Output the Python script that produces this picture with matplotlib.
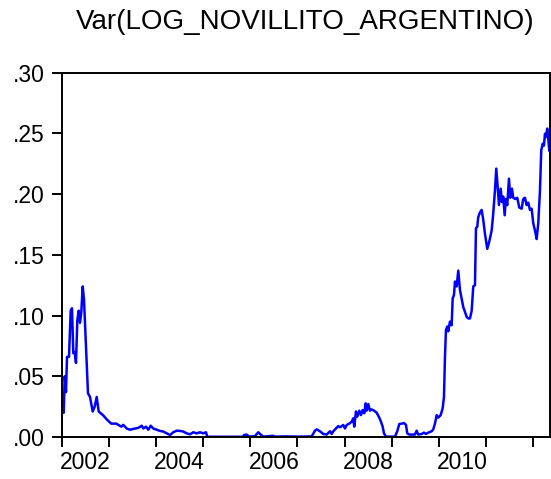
import matplotlib
matplotlib.use('Agg')
from matplotlib import pyplot as plt

plt.rcParams['font.family'] = ['Liberation Sans', 'DejaVu Sans']

dates = [
    2002.000, 2002.011, 2002.047, 2002.068, 2002.095, 2002.117, 2002.159, 2002.195,
    2002.222, 2002.250, 2002.280, 2002.307, 2002.335, 2002.364, 2002.392, 2002.420,
    2002.449, 2002.477, 2002.519, 2002.561, 2002.604, 2002.661, 2002.703, 2002.746,
    2002.788, 2002.879, 2002.970, 2003.055, 2003.161, 2003.267, 2003.309, 2003.381,
    2003.451, 2003.557, 2003.627, 2003.699, 2003.733, 2003.790, 2003.839, 2003.890,
    2003.945, 2004.017, 2004.087, 2004.157, 2004.229, 2004.299, 2004.369, 2004.441,
    2004.511, 2004.581, 2004.653, 2004.722, 2004.792, 2004.864, 2004.934, 2005.004,
    2005.061, 2005.089, 2005.852, 2005.867, 2005.924, 2005.979, 2006.100, 2006.169,
    2006.220, 2006.275, 2006.487, 2006.523, 2006.771, 2007.053, 2007.301, 2007.371,
    2007.407, 2007.477, 2007.547, 2007.619, 2007.689, 2007.725, 2007.758, 2007.864,
    2007.900, 2007.970, 2008.006, 2008.042, 2008.097, 2008.148, 2008.182, 2008.203,
    2008.239, 2008.267, 2008.309, 2008.345, 2008.381, 2008.415, 2008.445, 2008.466,
    2008.500, 2008.536, 2008.572, 2008.621, 2008.678, 2008.733, 2008.769, 2008.805,
    2008.833, 2008.875, 2009.066, 2009.114, 2009.157, 2009.208, 2009.256, 2009.299,
    2009.326, 2009.369, 2009.489, 2009.525, 2009.559, 2009.631, 2009.680, 2009.722,
    2009.771, 2009.843, 2009.877, 2009.913, 2009.949, 2009.983, 2010.034, 2010.076,
    2010.104, 2010.125, 2010.146, 2010.174, 2010.195, 2010.231, 2010.267, 2010.288,
    2010.316, 2010.337, 2010.373, 2010.407, 2010.443, 2010.479, 2010.513, 2010.549,
    2010.585, 2010.619, 2010.655, 2010.691, 2010.725, 2010.761, 2010.782, 2010.809,
    2010.830, 2010.867, 2010.903, 2010.936, 2010.972, 2011.021, 2011.064, 2011.114,
    2011.148, 2011.184, 2011.212, 2011.242, 2011.269, 2011.305, 2011.333, 2011.360,
    2011.390, 2011.417, 2011.445, 2011.481, 2011.508, 2011.544, 2011.572, 2011.614,
    2011.657, 2011.699, 2011.750, 2011.784, 2011.820, 2011.856, 2011.890, 2011.926,
    2011.962, 2011.996, 2012.038, 2012.068, 2012.102, 2012.138, 2012.165, 2012.195,
    2012.222, 2012.244, 2012.265, 2012.292, 2012.314, 2012.335,
]
variance = [
    0.004, 0.028, 0.020, 0.050, 0.037, 0.066, 0.066, 0.104,
    0.106, 0.069, 0.070, 0.061, 0.096, 0.104, 0.094, 0.103,
    0.124, 0.113, 0.074, 0.036, 0.033, 0.021, 0.025, 0.033,
    0.021, 0.018, 0.014, 0.011, 0.011, 0.0085, 0.010, 0.007,
    0.006, 0.007, 0.0075, 0.0093, 0.007, 0.0085, 0.006, 0.0093,
    0.007, 0.006, 0.005, 0.0045, 0.003, 0.0016, 0.0039, 0.0052,
    0.005, 0.0045, 0.003, 0.0022, 0.0039, 0.003, 0.0039, 0.003,
    0.0039, 0.0002, 0.0002, 0.0016, 0.002, 0.0003, 0.0008, 0.0039,
    0.002, 0.0003, 0.001, 0.0003, 0.0005, 0.0003, 0.0005, 0.0052,
    0.0063, 0.0047, 0.0025, 0.002, 0.0047, 0.0025, 0.0047, 0.009,
    0.008, 0.0099, 0.007, 0.0099, 0.011, 0.0126, 0.0154, 0.0085,
    0.021, 0.0167, 0.0217, 0.018, 0.0222, 0.0195, 0.0277, 0.0217,
    0.0271, 0.0217, 0.0227, 0.0217, 0.020, 0.016, 0.0126, 0.0085,
    0.003, 0.0003, 0.0003, 0.0047, 0.0107, 0.011, 0.0115, 0.010,
    0.003, 0.002, 0.002, 0.0052, 0.002, 0.0025, 0.0036, 0.0025,
    0.0036, 0.0047, 0.0063, 0.011, 0.018, 0.016, 0.018, 0.0236,
    0.033, 0.066, 0.088, 0.091, 0.087, 0.095, 0.092, 0.114,
    0.117, 0.128, 0.124, 0.137, 0.121, 0.114, 0.107, 0.103,
    0.099, 0.0976, 0.0976, 0.104, 0.124, 0.125, 0.172, 0.173,
    0.181, 0.185, 0.187, 0.179, 0.1675, 0.155, 0.161, 0.170,
    0.184, 0.203, 0.221, 0.206, 0.191, 0.2045, 0.1935, 0.198,
    0.1826, 0.196, 0.191, 0.2127, 0.197, 0.2045, 0.197, 0.196,
    0.197, 0.189, 0.188, 0.196, 0.197, 0.191, 0.193, 0.187,
    0.188, 0.176, 0.169, 0.163, 0.176, 0.203, 0.236, 0.2415,
    0.240, 0.2497, 0.247, 0.254, 0.2456, 0.236,
]

year_ticks = list(range(2002, 2013))
label_years = [2002, 2004, 2006, 2008, 2010]
y_ticks = [0.00, 0.05, 0.10, 0.15, 0.20, 0.25, 0.30]
y_labels = ['.00', '.05', '.10', '.15', '.20', '.25', '.30']

fig = plt.figure(figsize=(5.51, 4.79), dpi=100)
ax = fig.add_axes([61.5 / 551, 42 / 479, 488 / 551, 364.3 / 479])

ax.plot(dates, variance, color='#0000FF', lw=1.8)

ax.set_xlim(2002.0, 2012.34)
ax.set_ylim(0, 0.30)

ax.set_yticks(y_ticks)
ax.set_yticklabels(y_labels)

# year boundaries get the tick marks, the labels sit in the middle of the year
ax.set_xticks(year_ticks)
ax.set_xticklabels([])
ax.set_xticks([y + 0.5 for y in label_years], minor=True)
ax.set_xticklabels([str(y) for y in label_years], minor=True)

ax.tick_params(axis='both', which='major', direction='out', length=7,
               width=1.4, labelsize=16.5, pad=5, color='black')
ax.tick_params(axis='x', which='minor', length=0, labelsize=16.5, pad=10)

for s in ax.spines.values():
    s.set_linewidth(1.4)

fig.text(305 / 551, 1 - 22 / 479, 'Var(LOG_NOVILLITO_ARGENTINO)',
         ha='center', va='center', fontsize=20)

fig.savefig('out.png', dpi=100)
